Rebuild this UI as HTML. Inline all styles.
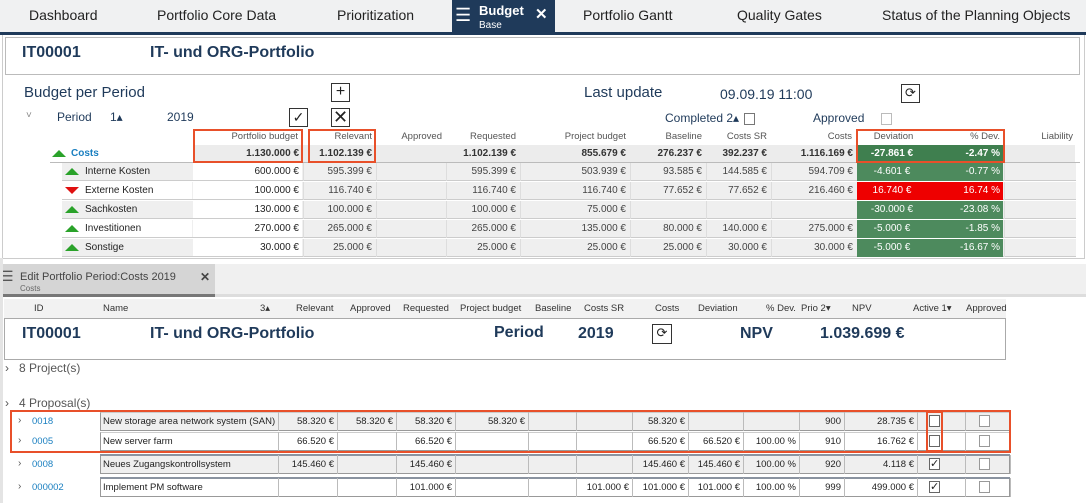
<!DOCTYPE html>
<html><head><meta charset="utf-8"><style>
*{margin:0;padding:0;box-sizing:border-box}
body{width:1086px;height:503px;position:relative;background:#fff;font-family:"Liberation Sans",sans-serif;color:#222;overflow:hidden}
.a{position:absolute;white-space:nowrap}
.r{position:absolute;text-align:right;white-space:nowrap;padding-right:3px;font-size:10px}
.nav{color:#1f3a5a}
.tab{top:7px;font-size:14px;color:#222}
.bx{position:absolute;border:1px solid #333;background:#fff;font-size:16px;line-height:16px;text-align:center}
.cb{position:absolute;width:11px;height:12px;border:1px solid #777;background:#fff}
.or{position:absolute;border:2px solid #e8502a}
.up{position:absolute;width:0;height:0;border-left:7px solid transparent;border-right:7px solid transparent;border-bottom:7px solid #2aa22a}
.dn{position:absolute;width:0;height:0;border-left:7px solid transparent;border-right:7px solid transparent;border-top:7px solid #e01010}
</style></head><body>
<!-- top tab bar -->
<div class="a" style="left:0;top:0;width:1086px;height:32px;background:#f0f1f2"></div>
<div class="a" style="left:0;top:32px;width:1086px;height:3px;background:#1f3a5a"></div>
<div class="a tab" style="left:29px">Dashboard</div>
<div class="a tab" style="left:157px">Portfolio Core Data</div>
<div class="a tab" style="left:337px">Prioritization</div>
<div class="a" style="left:452px;top:0;width:103px;height:33px;background:#1f3a5a"></div>
<div class="a" style="left:455px;top:5px;color:#fff;font-size:18px">☰</div>
<div class="a" style="left:479px;top:3px;color:#fff;font-size:13px;font-weight:bold">Budget</div>
<div class="a" style="left:479px;top:20px;color:#fff;font-size:10px">Base</div>
<div class="a" style="left:535px;top:5px;color:#fff;font-size:15px;font-weight:bold">✕</div>
<div class="a tab" style="left:583px">Portfolio Gantt</div>
<div class="a tab" style="left:737px">Quality Gates</div>
<div class="a tab" style="left:882px">Status of the Planning Objects</div>
<!-- top panel border -->
<div class="a" style="left:2px;top:35px;width:1083px;height:224px;border:1px solid #ccc;border-top:none"></div>
<div class="a" style="left:5px;top:37px;width:1075px;height:38px;border:1px solid #bbb"></div>
<div class="a nav" style="left:22px;top:44px;font-size:16px;font-weight:bold">IT00001</div>
<div class="a nav" style="left:150px;top:44px;font-size:16px;font-weight:bold">IT- und ORG-Portfolio</div>
<div class="a nav" style="left:24px;top:84px;font-size:15px">Budget per Period</div>
<div class="bx" style="left:331px;top:83px;width:19px;height:19px">+</div>
<div class="a nav" style="left:584px;top:84px;font-size:15px">Last update</div>
<div class="a nav" style="left:720px;top:86px;font-size:14px">09.09.19 11:00</div>
<div class="bx" style="left:901px;top:84px;width:19px;height:19px;font-size:13px">⟳</div>
<div class="a" style="left:26px;top:110px;font-size:10px;color:#888">˅</div>
<div class="a nav" style="left:57px;top:110px;font-size:12px">Period</div>
<div class="a nav" style="left:110px;top:110px;font-size:12px">1▴</div>
<div class="a nav" style="left:167px;top:110px;font-size:12px">2019</div>
<div class="bx" style="left:289px;top:108px;width:19px;height:19px;font-size:14px">✓</div>
<div class="bx" style="left:331px;top:108px;width:19px;height:19px;font-size:18px">✕</div>
<div class="a nav" style="left:665px;top:111px;font-size:12px">Completed 2▴</div>
<div class="cb" style="left:744px;top:113px"></div>
<div class="a nav" style="left:813px;top:111px;font-size:12px">Approved</div>
<div class="cb" style="left:881px;top:113px;border-color:#bbb"></div>
<!-- header row -->
<div class="a" style="left:193px;top:145px;width:882px;height:17px;background:#ececec"></div>
<div class="a" style="left:50px;top:162px;width:1030px;height:1px;background:#bbb"></div>
<div class="r" style="left:193px;top:131px;width:108px;color:#555;font-size:9.5px">Portfolio budget</div>
<div class="r" style="left:303px;top:131px;width:72px;color:#555;font-size:9.5px">Relevant</div>
<div class="r" style="left:376px;top:131px;width:69px;color:#555;font-size:9.5px">Approved</div>
<div class="r" style="left:446px;top:131px;width:73px;color:#555;font-size:9.5px">Requested</div>
<div class="r" style="left:520px;top:131px;width:109px;color:#555;font-size:9.5px">Project budget</div>
<div class="r" style="left:630px;top:131px;width:75px;color:#555;font-size:9.5px">Baseline</div>
<div class="r" style="left:706px;top:131px;width:64px;color:#555;font-size:9.5px">Costs SR</div>
<div class="r" style="left:771px;top:131px;width:84px;color:#555;font-size:9.5px">Costs</div>
<div class="a" style="left:857px;top:131px;width:73px;text-align:center;color:#555;font-size:9.5px">Deviation</div>
<div class="r" style="left:931px;top:131px;width:72px;color:#555;font-size:9.5px">% Dev.</div>
<div class="r" style="left:1004px;top:131px;width:72px;color:#555;font-size:9.5px">Liability</div>
<div class="up" style="left:52px;top:150px"></div>
<div class="a" style="left:71px;top:148px;font-size:10px;font-weight:bold;color:#1a7fc0">Costs</div>
<div class="a" style="left:857px;top:145px;width:146px;height:17px;background:#3f7f4f"></div>
<div id="sum"></div>
<div class="or" style="left:193px;top:129px;width:110px;height:34px"></div>
<div class="or" style="left:308px;top:129px;width:68px;height:34px"></div>
<div class="or" style="left:856px;top:129px;width:149px;height:34px"></div>
<div id="rows"></div>
<!-- second panel -->
<div class="a" style="left:0;top:264px;width:1086px;height:30px;background:#f0f0f0"></div>
<div class="a" style="left:0;top:264px;width:215px;height:30px;background:#d5d5d5"></div>
<div class="a" style="left:0;top:294px;width:1086px;height:3px;background:#ddd"></div>
<div class="a" style="left:0;top:294px;width:215px;height:3px;background:#777"></div>
<div class="a" style="left:1px;top:268px;font-size:14px;color:#555">☰</div>
<div class="a" style="left:20px;top:271px;font-size:11px;color:#444">Edit Portfolio Period:Costs 2019</div>
<div class="a" style="left:200px;top:270px;font-size:12px;color:#444;font-weight:bold">✕</div>
<div class="a" style="left:20px;top:284px;font-size:8px;color:#666">Costs</div>
<div class="a" style="left:4px;top:299px;width:1002px;height:19px;background:#f2f2f2"></div>
<div id="hdr2"></div>
<div class="a" style="left:4px;top:318px;width:1002px;height:42px;border:1px solid #aaa;background:#fff"></div>
<div class="a nav" style="left:22px;top:325px;font-size:16px;font-weight:bold">IT00001</div>
<div class="a nav" style="left:150px;top:325px;font-size:16px;font-weight:bold">IT- und ORG-Portfolio</div>
<div class="a nav" style="left:494px;top:324px;font-size:16px;font-weight:bold">Period</div>
<div class="a nav" style="left:578px;top:325px;font-size:16px;font-weight:bold">2019</div>
<div class="bx" style="left:652px;top:324px;width:20px;height:20px;font-size:13px">⟳</div>
<div class="a nav" style="left:740px;top:325px;font-size:16px;font-weight:bold">NPV</div>
<div class="a nav" style="left:820px;top:325px;font-size:16px;font-weight:bold">1.039.699 €</div>
<div class="a" style="left:5px;top:361px;font-size:12px;color:#555">›&nbsp;&nbsp; 8 Project(s)</div>
<div class="a" style="left:5px;top:396px;font-size:12px;color:#555">›&nbsp;&nbsp; 4 Proposal(s)</div>
<div id="prop"></div>
<div class="or" style="left:10px;top:410px;width:1001px;height:43px"></div>
<div class="or" style="left:926px;top:411px;width:17px;height:41px"></div>
<div class="a" style="left:0;top:258px;width:3px;height:245px;background:#e4e4e4"></div>
<script>
function d(h){return h}
var s='';
var C=[[193,109],[303,72],[376,69],[446,73],[520,109],[630,75],[706,64],[771,85],[857,73],[931,72],[1004,72]];
var sum=['1.130.000 €','1.102.139 €','','1.102.139 €','855.679 €','276.237 €','392.237 €','1.116.169 €','-27.861 €','-2.47 %',''];
sum.forEach(function(v,i){var col=i>=8?'#fff':'#333';var al=i==8?'center':'right';s+='<div class="r" style="left:'+C[i][0]+'px;top:148px;width:'+C[i][1]+'px;font-weight:bold;color:'+col+';text-align:'+al+'">'+v+'</div>'});
document.getElementById('sum').outerHTML=s;
var R=[['up','Interne Kosten','600.000 €','595.399 €','','595.399 €','503.939 €','93.585 €','144.585 €','594.709 €','-4.601 €','-0.77 %',0],
['dn','Externe Kosten','100.000 €','116.740 €','','116.740 €','116.740 €','77.652 €','77.652 €','216.460 €','16.740 €','16.74 %',1],
['up','Sachkosten','130.000 €','100.000 €','','100.000 €','75.000 €','','','','-30.000 €','-23.08 %',0],
['up','Investitionen','270.000 €','265.000 €','','265.000 €','135.000 €','80.000 €','140.000 €','275.000 €','-5.000 €','-1.85 %',0],
['up','Sonstige','30.000 €','25.000 €','','25.000 €','25.000 €','25.000 €','30.000 €','30.000 €','-5.000 €','-16.67 %',0]];
s='';
R.forEach(function(r,k){var y=163+k*19;
s+='<div class="a" style="left:62px;top:'+y+'px;width:1014px;height:18px;background:#efefef;border-bottom:1px solid #ccc"></div>';
s+='<div class="a" style="left:193px;top:'+y+'px;width:109px;height:18px;background:#fff;border-bottom:1px solid #ccc"></div>';
if(k%2==1)s+='<div class="a" style="left:62px;top:'+y+'px;width:130px;height:18px;background:#fff;border-bottom:1px solid #ccc"></div>';
for(var i=1;i<C.length;i++)s+='<div class="a" style="left:'+C[i][0]+'px;top:'+y+'px;width:1px;height:18px;background:#ddd"></div>';
var bg=r[12]?'#ee0000':'#4d8a5d';
s+='<div class="a" style="left:857px;top:'+y+'px;width:146px;height:18px;background:'+bg+'"></div>';
s+='<div class="'+r[0]+'" style="left:65px;top:'+(y+5)+'px"></div>';
s+='<div class="a" style="left:85px;top:'+(y+3)+'px;font-size:10px">'+r[1]+'</div>';
for(var i=0;i<10;i++){var v=r[i+2];var col=i>=8?'#fff':(i==0?'#222':'#444');var al=i==8?'center':'right';
s+='<div class="r" style="left:'+C[i][0]+'px;top:'+(y+3)+'px;width:'+C[i][1]+'px;color:'+col+';text-align:'+al+'">'+v+'</div>';}
});
document.getElementById('rows').outerHTML=s;
s='';
var H=[['ID',34],['Name',103],['3▴',260],['Relevant',296],['Approved',350],['Requested',403],['Project budget',460],['Baseline',535],['Costs SR',584],['Costs',655],['Deviation',698],['% Dev.',766],['Prio 2▾',801],['NPV',852],['Active 1▾',913],['Approved',966]];
H.forEach(function(h){s+='<div class="a" style="left:'+h[1]+'px;top:303px;font-size:9.5px;color:#333">'+h[0]+'</div>'});
document.getElementById('hdr2').outerHTML=s;
var P=[278,337,396,455,528,576,632,688,743,799,844,917,965,1010];
var Q=[['0018','New storage area network system (SAN)',['58.320 €','58.320 €','58.320 €','58.320 €','','','58.320 €','','','900','28.735 €'],0,412],
['0005','New server farm',['66.520 €','','66.520 €','','','','66.520 €','66.520 €','100.00 %','910','16.762 €'],0,432],
['0008','Neues Zugangskontrollsystem',['145.460 €','','145.460 €','','','','145.460 €','145.460 €','100.00 %','920','4.118 €'],1,455],
['000002','Implement PM software',['','','101.000 €','','','101.000 €','101.000 €','101.000 €','100.00 %','999','499.000 €'],1,478]];
s='';
Q.forEach(function(q,k){var y=q[4];var bg=(k%2==0)?'#efefef':'#fff';
s+='<div class="a" style="left:100px;top:'+y+'px;width:910px;height:19px;background:'+bg+';border:1px solid #999;border-top-color:#ccc"></div>';
if(k>=2)s+='<div class="a" style="left:100px;top:'+(y-1)+'px;width:910px;height:2px;background:#8a93a0"></div>';
P.forEach(function(x){s+='<div class="a" style="left:'+x+'px;top:'+y+'px;width:1px;height:19px;background:#bbb"></div>'});
s+='<div class="a" style="left:18px;top:'+(y+3)+'px;font-size:10px;color:#555">›</div>';
s+='<div class="a" style="left:32px;top:'+(y+4)+'px;font-size:9.5px;color:#1a7fc0">'+q[0]+'</div>';
s+='<div class="a" style="left:103px;top:'+(y+4)+'px;font-size:9.5px">'+q[1]+'</div>';
q[2].forEach(function(v,i){s+='<div class="r" style="left:'+P[i]+'px;top:'+(y+4)+'px;width:'+(P[i+1]-P[i])+'px;font-size:9.5px">'+v+'</div>'});
s+='<div class="cb" style="left:929px;top:'+(y+3)+'px;border-color:#666;font-size:11px;line-height:10px;text-align:center">'+(q[3]?'✓':'')+'</div>';
s+='<div class="cb" style="left:979px;top:'+(y+3)+'px;border-color:#999"></div>';
});
document.getElementById('prop').outerHTML=s;
</script>
</body></html>
